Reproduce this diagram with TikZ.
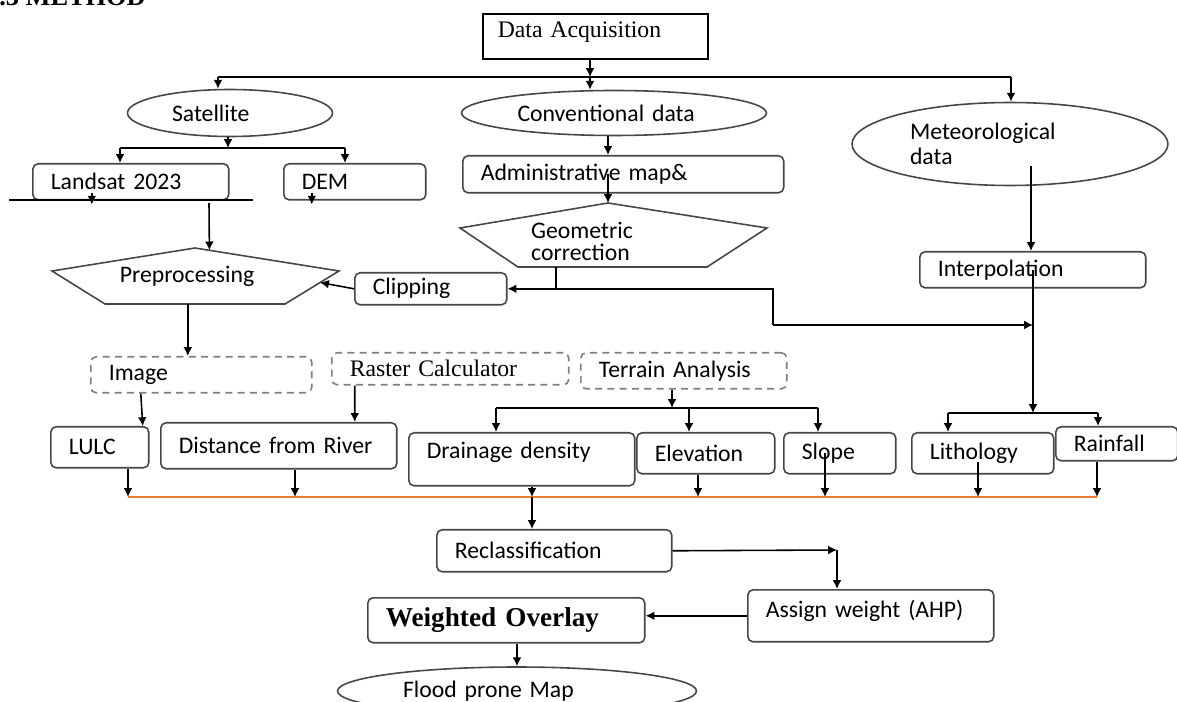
\documentclass[tikz,border=0pt]{standalone}
\usepackage{fontspec}
\setmainfont{Liberation Serif}
\newfontfamily\calib{Carlito}
\usetikzlibrary{arrows.meta}
\usetikzlibrary{shapes.geometric}
\usetikzlibrary{calc}
\definecolor{edge}{RGB}{70,70,70}
\definecolor{orangeline}{RGB}{237,125,49}

\begin{document}
\begin{tikzpicture}[x=0.02cm,y=-0.02cm,
    box/.style={draw=edge, line width=0.9pt, rounded corners=3pt, anchor=north west,
        align=left, inner xsep=0.36cm, inner ysep=0.1cm,
        font=\calib\fontsize{13.5}{14}\selectfont},
    dbox/.style={box, draw=gray, dash pattern=on 4pt off 3pt},
    oval/.style={ellipse, draw=edge, line width=0.9pt, align=left, inner sep=0.05cm,
        font=\calib\fontsize{13.5}{14}\selectfont},
    serif/.style={font=\fontsize{13.5}{14}\selectfont},
    arr/.style={-{Latex[length=5pt,width=5pt]}, line width=0.9pt},
    wire/.style={line width=0.9pt}]
\useasboundingbox (0,0) rectangle (1177,702);

\node[anchor=base west, inner sep=0, font=\bfseries\fontsize{15}{15}\selectfont] (title) at (-1,6) {.3 METHOD};

% sources
\node[draw, line width=0.9pt, anchor=north west, align=left, serif, text width=3.9cm,
    inner xsep=0.3cm, text depth=0.26cm, minimum height=0.9cm] (da) at (482,13) {Data Acquisition};
\node[oval, text width=2.32cm, minimum width=4.1cm, minimum height=0.94cm] (sat) at (230,113) {Satellite};
\node[oval, text width=3.86cm, minimum width=6.1cm, minimum height=0.9cm] (conv) at (614,113) {Conventional data};
\node[oval, text width=4.0cm, minimum width=6.32cm, minimum height=1.66cm] (met) at (1010,144) {Meteorological\\data};

\node[box, text width=3.2cm, minimum height=0.72cm] (landsat) at (32,163) {Landsat 2023};
\node[box, text width=2.12cm, minimum height=0.72cm] (dem) at (283,163) {DEM};
\node[box, text width=5.7cm, minimum height=0.74cm] (adm) at (462,155) {Administrative map\&};
\node[box, text width=2.32cm, minimum height=0.64cm] (clip) at (354,272) {Clipping};
\node[box, text width=3.8cm, minimum height=0.72cm] (interp) at (919,251) {Interpolation};

% pentagons
\coordinate (p1) at (195,248); \coordinate (p2) at (339,271); \coordinate (p3) at (285,304);
\coordinate (p4) at (105,304); \coordinate (p5) at (52,271);
\draw[draw=edge, line width=0.9pt] (p1) -- (p2) -- (p3) -- (p4) -- (p5) -- cycle;
\node[font=\calib\fontsize{13.5}{14}\selectfont] (prep) at (187,276) {Preprocessing};

\coordinate (g1) at (608,203); \coordinate (g2) at (767,228); \coordinate (g3) at (707,267);
\coordinate (g4) at (518,267); \coordinate (g5) at (460,228);
\draw[draw=edge, line width=0.9pt] (g1) -- (g2) -- (g3) -- (g4) -- (g5) -- cycle;
\node[align=left, font=\calib\fontsize{13.5}{12.5}\selectfont] (geo) at (582,241) {Geometric\\correction};

% middle
\node[dbox, text width=3.7cm, minimum height=0.72cm] (image) at (90,356) {Image};
\node[dbox, serif, text width=4.02cm, minimum height=0.64cm] (raster) at (331,352) {Raster Calculator};
\node[dbox, text width=3.4cm, minimum height=0.72cm] (terrain) at (580,352) {Terrain Analysis};

\node[box, text width=1.24cm, minimum height=0.82cm] (lulc) at (50,426) {LULC};
\node[box, text width=4.0cm, minimum height=0.92cm] (dist) at (160,422) {Distance from River};
\node[box, text width=3.8cm, minimum height=1.06cm, text depth=0.35cm] (drain) at (408,432) {Drainage density};
\node[box, text width=2.04cm, minimum height=0.82cm] (elev) at (636,432) {Elevation};
\node[box, text width=1.52cm, minimum height=0.82cm] (slope) at (783,432) {Slope};
\node[box, text width=2.12cm, minimum height=0.82cm] (litho) at (911,432) {Lithology};
\node[box, text width=1.72cm, minimum height=0.68cm] (rain) at (1055,426) {Rainfall};

% bottom
\node[box, text width=3.98cm, minimum height=0.84cm] (reclass) at (436,529) {Reclassification};
\node[box, text width=4.2cm, minimum height=1.04cm, text depth=0.29cm] (assign) at (747,589) {Assign weight (AHP)};
\node[box, text width=4.82cm, minimum height=0.9cm, font=\bfseries\fontsize{15.5}{16}\selectfont] (wo) at (367,597) {Weighted Overlay};
\node[oval, text width=4.56cm, minimum width=7.18cm, minimum height=0.96cm] (flood) at (517,691) {Flood prone Map};

% top branches
\coordinate (j1) at (590,77); \coordinate (jsat) at (218,77); \coordinate (jmet) at (1011,77);
\draw[arr] (j1 |- da.south) -- (j1);
\draw[wire] (jsat) -- (jmet);
\draw[arr] (j1) -- (j1 |- conv.north);
\draw[arr] (jsat) -- (jsat |- sat.north);
\draw[arr] (jmet) -- (jmet |- met.north);

\coordinate (j2) at (228,148); \coordinate (jl) at (120,148); \coordinate (jd) at (345,148);
\draw[arr] (j2 |- sat.south) -- (j2);
\draw[wire] (jl) -- (jd);
\draw[arr] (jl) -- (jl |- landsat.north);
\draw[arr] (jd) -- (jd |- dem.north);

\coordinate (ll) at (9,200); \coordinate (lr) at (253,200); \coordinate (jp) at (209,203);
\draw[wire] (ll) -- (lr);
\draw[arr] ([xshift=-0.78cm,yshift=0.16cm]landsat.south) -- ([xshift=-0.78cm,yshift=-0.08cm]landsat.south);
\draw[arr] ([xshift=-0.86cm,yshift=0.16cm]dem.south) -- ([xshift=-0.86cm,yshift=-0.08cm]dem.south);
\draw[arr] (jp) -- ($(p1)!0.1!(p2)$);

\draw[arr] (g1 |- conv.south) -- (g1 |- adm.north);
\draw[arr] (g1 |- adm.center) -- (g1);

\coordinate (gb) at ($(g4)!0.2!(g3)$); \coordinate (bend) at (773,325);
\draw[wire] (gb) -- (gb |- clip.east) -- (bend |- clip.east) -- (bend);
\draw[arr] (gb |- clip.east) -- (clip.east);
\draw[arr] (clip.west) -- ($(p2)!0.35!(p3)$);

\coordinate (mi) at (1031,166); \coordinate (jm) at (1033,413);
\draw[arr] (mi) -- (mi |- interp.north);
\draw[arr] (jm |- interp.center) -- (jm);
\draw[arr] (bend) -- (bend -| jm);
\coordinate (jlh) at (948,413); \coordinate (jra) at (1098,413);
\draw[wire] (jlh) -- (jra);
\draw[arr] (jlh) -- (jlh |- litho.north);
\draw[arr] (jra) -- (jra |- rain.north);

% middle arrows
\coordinate (pb) at ($(p4)!0.46!(p3)$);
\draw[arr] (pb) -- (pb |- image.north);
\draw[arr] ([xshift=-1.21cm]image.south) -- ([xshift=0.86cm]lulc.north);
\draw[arr] ([xshift=-1.91cm]raster.south) -- ([xshift=1.52cm]dist.north);

\coordinate (jt) at (672,408); \coordinate (jdr) at (496,408);
\coordinate (jel) at (689,408); \coordinate (jsl) at (818,408);
\draw[arr] (jt |- terrain.south) -- (jt);
\draw[wire] (jdr) -- (jsl);
\draw[arr] (jdr) -- (jdr |- drain.north);
\draw[arr] (jel) -- (jel |- elev.north);
\draw[arr] (jsl) -- (jsl |- slope.north);

% collector line
\coordinate (ol) at (128,497); \coordinate (or) at (1097,497);
\coordinate (o2) at (295,497); \coordinate (o3) at (532,497); \coordinate (o4) at (698,497);
\coordinate (o5) at (825,497); \coordinate (o6) at (978,497); \coordinate (l6) at (978,462);
\draw[orangeline, line width=1.2pt] (ol) -- (or);
\draw[arr] (ol |- lulc.south) -- (ol);
\draw[arr] (o2 |- dist.south) -- (o2);
\draw[arr] (o3 |- drain.south) -- (o3);
\draw[arr] (o4 |- elev.south) -- (o4);
\draw[arr] (o5 |- slope.center) -- (o5);
\draw[arr] (l6) -- (o6);
\draw[arr] (or |- rain.south) -- (or);

% bottom arrows
\coordinate (ra) at (837,550);
\draw[arr] (o3) -- (o3 |- reclass.north);
\draw[arr] (reclass.east) -- (ra);
\draw[arr] (ra) -- (ra |- assign.north);
\draw[arr] (assign.west) -- (assign.west -| wo.east);
\draw[arr] (flood.north |- wo.south) -- (flood.north);
\end{tikzpicture}
\end{document}
